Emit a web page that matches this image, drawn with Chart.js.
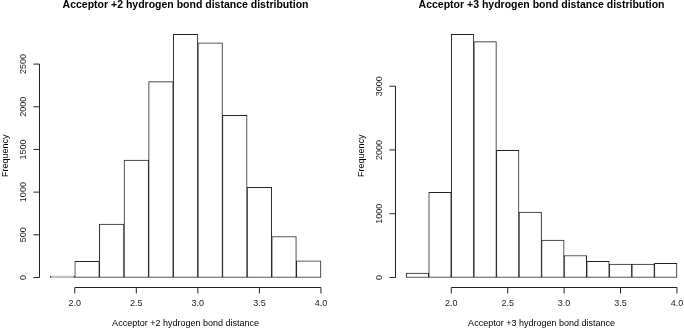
<!DOCTYPE html>
<html lang="en">
<head>
<meta charset="UTF-8">
<title>Hydrogen bond distance distributions</title>
<script src="https://cdn.jsdelivr.net/npm/chart.js"></script>
<style>
    body { margin: 0; background: #fff; }
    #wrap { position: relative; width: 684px; height: 329px; overflow: hidden; background: #fff; }
    canvas { position: absolute; top: 0; }
</style>
</head>
<body>
<div id="wrap">
    <canvas id="chartPlus2" width="356" height="329" style="left:0"></canvas>
    <canvas id="chartPlus3" width="356" height="329" style="left:356px"></canvas>
</div>

<script>
// histogram bins (left edges ... right edge) and counts
var breaksPlus2 = [1.8, 2.0, 2.2, 2.4, 2.6, 2.8, 3.0, 3.2, 3.4, 3.6, 3.8, 4.0];
var countsPlus2 = [15, 190, 625, 1375, 2295, 2850, 2750, 1900, 1055, 480, 195];

var breaksPlus3 = [1.6, 1.8, 2.0, 2.2, 2.4, 2.6, 2.8, 3.0, 3.2, 3.4, 3.6, 3.8, 4.0];
var countsPlus3 = [70, 1335, 3815, 3700, 1995, 1025, 585, 345, 255, 210, 210, 220];

var xTicks = [2.0, 2.5, 3.0, 3.5, 4.0];
var xTickLabels = ['2.0', '2.5', '3.0', '3.5', '4.0'];
var yTicksPlus2 = [0, 500, 1000, 1500, 2000, 2500];
var yTicksPlus3 = [0, 1000, 2000, 3000];

var titlePlus2 = 'Acceptor +2 hydrogen bond distance distribution';
var titlePlus3 = 'Acceptor +3 hydrogen bond distance distribution';
var xLabelPlus2 = 'Acceptor +2 hydrogen bond distance';
var xLabelPlus3 = 'Acceptor +3 hydrogen bond distance';
var yLabel = 'Frequency';

var FONT = '"Liberation Sans", Arial, Helvetica, sans-serif';
var INK = '#222';

// R style axes, titles drawn with the chart's own scales
var rAxesPlugin = {
    id: 'rAxes',
    afterDraw: function (chart, args, opts) {
        var ctx = chart.ctx;
        var area = chart.chartArea;
        var xs = chart.scales.x;
        var ys = chart.scales.y;
        ctx.save();
        ctx.strokeStyle = INK;
        ctx.fillStyle = INK;
        ctx.lineWidth = 1;

        // x axis
        var yAxis = Math.round(area.bottom) + 0.5;
        var x0 = xs.getPixelForValue(opts.xTicks[0]);
        var x1 = xs.getPixelForValue(opts.xTicks[opts.xTicks.length - 1]);
        ctx.beginPath();
        ctx.moveTo(x0, yAxis);
        ctx.lineTo(x1, yAxis);
        opts.xTicks.forEach(function (v) {
            var px = xs.getPixelForValue(v);
            ctx.moveTo(px, yAxis);
            ctx.lineTo(px, yAxis + 6);
        });
        ctx.stroke();
        ctx.font = '9px ' + FONT;
        ctx.textAlign = 'center';
        ctx.textBaseline = 'middle';
        opts.xTicks.forEach(function (v, i) {
            ctx.fillText(opts.xTickLabels[i], xs.getPixelForValue(v), area.bottom + 16);
        });

        // y axis
        var xAxis = Math.round(area.left) + 0.5;
        var yb = ys.getPixelForValue(opts.yTicks[0]);
        var yt = ys.getPixelForValue(opts.yTicks[opts.yTicks.length - 1]);
        ctx.beginPath();
        ctx.moveTo(xAxis, yb);
        ctx.lineTo(xAxis, yt);
        opts.yTicks.forEach(function (v) {
            var py = ys.getPixelForValue(v);
            ctx.moveTo(xAxis, py);
            ctx.lineTo(xAxis - 6, py);
        });
        ctx.stroke();
        opts.yTicks.forEach(function (v) {
            ctx.save();
            ctx.translate(area.left - 16, ys.getPixelForValue(v));
            ctx.rotate(-Math.PI / 2);
            ctx.fillText(String(v), 0, 0);
            ctx.restore();
        });

        // labels
        var cx = (area.left + area.right) / 2;
        var cy = (area.top + area.bottom) / 2;
        ctx.fillStyle = '#000';
        ctx.fillText(opts.xLabel, cx, area.bottom + 36);
        ctx.save();
        ctx.translate(area.left - 34, cy);
        ctx.rotate(-Math.PI / 2);
        ctx.fillText(opts.yLabel, 0, 0);
        ctx.restore();

        ctx.font = 'bold 10.5px ' + FONT;
        ctx.fillText(opts.title, cx, 5);
        ctx.restore();
    }
};

function makeHistogram(canvasId, breaks, counts, yTicks, title, xLabel) {
    var points = counts.map(function (c, i) {
        return { x: (breaks[i] + breaks[i + 1]) / 2, y: c };
    });
    var xRange = breaks[breaks.length - 1] - breaks[0];
    var yMax = Math.max.apply(null, counts);

    var ctx = document.getElementById(canvasId).getContext('2d');
    return new Chart(ctx, {
        type: 'bar',
        data: {
            datasets: [{
                data: points,
                backgroundColor: '#fff',
                borderColor: INK,
                borderWidth: 1,
                borderSkipped: false,
                barPercentage: 1,
                categoryPercentage: 1
            }]
        },
        options: {
            responsive: false,
            animation: false,
            devicePixelRatio: 1,
            layout: { padding: { left: 39.3, right: 24.2, top: 24.5, bottom: 41.8 } },
            plugins: {
                legend: { display: false },
                tooltip: { enabled: false },
                rAxes: {
                    xTicks: xTicks,
                    xTickLabels: xTickLabels,
                    yTicks: yTicks,
                    title: title,
                    xLabel: xLabel,
                    yLabel: yLabel
                }
            },
            scales: {
                x: {
                    type: 'linear',
                    display: false,
                    offset: false,
                    min: breaks[0] - 0.04 * xRange,
                    max: breaks[breaks.length - 1] + 0.04 * xRange
                },
                y: {
                    type: 'linear',
                    display: false,
                    min: -0.04 * yMax,
                    max: 1.04 * yMax
                }
            }
        },
        plugins: [rAxesPlugin]
    });
}

makeHistogram('chartPlus2', breaksPlus2, countsPlus2, yTicksPlus2, titlePlus2, xLabelPlus2);
makeHistogram('chartPlus3', breaksPlus3, countsPlus3, yTicksPlus3, titlePlus3, xLabelPlus3);
</script>
</body>
</html>
